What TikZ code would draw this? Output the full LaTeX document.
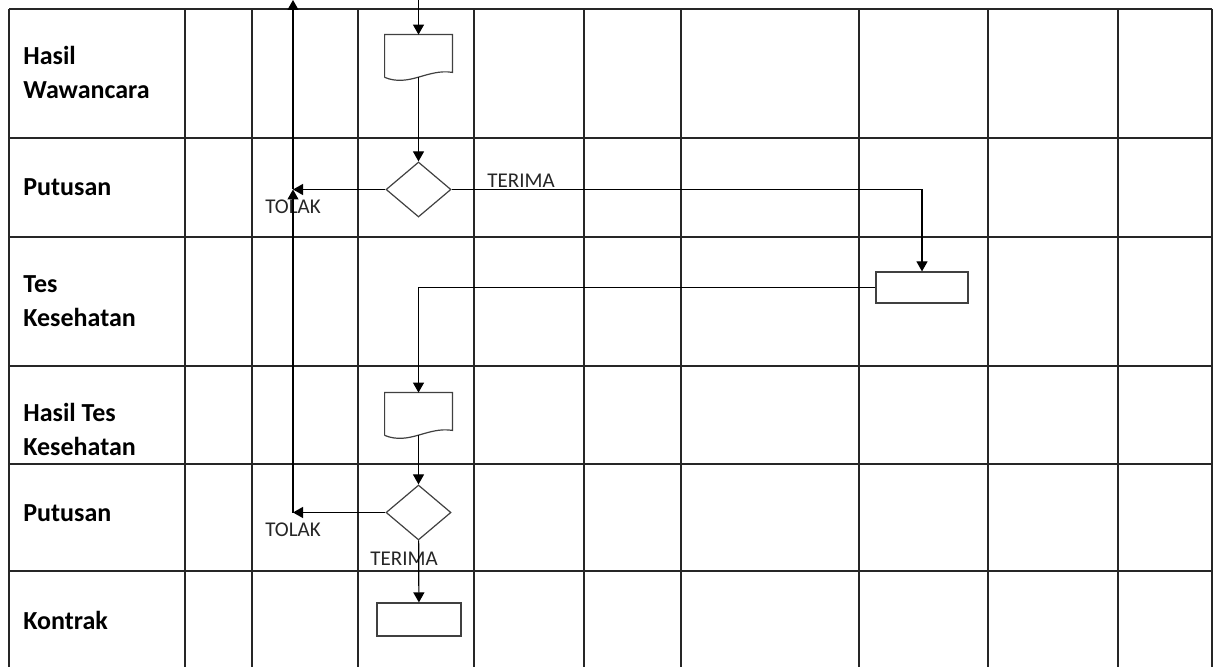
\documentclass[tikz,border=0pt]{standalone}
\usepackage{fontspec}
\setmainfont{Carlito}
\usetikzlibrary{arrows.meta,positioning,shapes.geometric}

% document symbol: box with a wavy bottom, drawn over a named node
\newcommand\docpath[1]{\draw[shape line] (#1.south west) -- (#1.north west) -- (#1.north east) -- ([yshift=2.5pt]#1.south east) .. controls +(-25,-4) and +(25,10) .. (#1.south west);}

\begin{document}
\begin{tikzpicture}[
  x=0.5pt, y=-0.5pt,
  gridline/.style={draw=black!85, line width=0.9pt},
  shape line/.style={draw=black!75, line width=0.6pt},
  lane/.style={anchor=base west, align=left, inner sep=0pt, font=\fontsize{13}{16}\selectfont\bfseries},
  lbl/.style={inner sep=0pt, text=black!85, font=\fontsize{10.5}{12}\selectfont},
  doc/.style={minimum width=33.5pt, minimum height=21pt, inner sep=0pt},
  dec/.style={shape line, diamond, minimum width=32.5pt, minimum height=27.5pt, inner sep=0pt},
  proc/.style={shape line, rectangle, inner sep=0pt},
  arr/.style={-{Triangle[length=5pt,width=5.5pt]}, line width=0.6pt}
]
  \useasboundingbox (0,0) rectangle (1225,667);

  % lanes
  \foreach \y in {9,138,237,366,464,571} \draw[gridline] (9,\y) -- (1212,\y);
  \foreach \x in {9,185,252,358,474,584,681,859,988,1118,1212} \draw[gridline] (\x,9) -- (\x,667);

  % base of a two-line label is its last line
  \node[lane] (hasil)   at (23,99)  {Hasil\\[1pt]Wawancara};
  \node[lane] (putus1)  at (23,196) {Putusan};
  \node[lane] (tes)     at (23,327) {Tes\\[1pt]Kesehatan};
  \node[lane] (hasiltes) at (23,456) {Hasil Tes\\[1pt]Kesehatan};
  \node[lane] (putus2)  at (23,522) {Putusan};
  \node[lane] (kontrak) at (23,629) {Kontrak};

  % flow symbols
  \node[doc] (doc1) at (418.5,56) {};
  \docpath{doc1}
  \node[dec] (dec1) at (418.5,189.5) {};
  \node[proc, minimum width=46pt, minimum height=15.5pt] (box1) at (922,287.5) {};
  \node[doc] (doc2) at (418.5,414) {};
  \docpath{doc2}
  \node[dec] (dec2) at (418.5,512.5) {};
  \node[proc, minimum width=42pt, minimum height=16.5pt] (box2) at (419,619.5) {};

  \coordinate (start) at (418.5,0);
  \coordinate (out) at (293,0);
  \coordinate (t1) at (out |- dec1.west);
  \coordinate (t2) at (out |- dec2.west);

  \node[lbl, below=5pt of t1] (tolak1) {TOLAK};
  \node[lbl, below=5pt of t2] (tolak2) {TOLAK};
  \node[lbl, anchor=base west] (terima1) at (487,188) {TERIMA};
  \node[lbl, anchor=base west] (terima2) at (370,565) {TERIMA};

  % connectors
  \draw[arr] (start) -- (doc1);
  \draw[arr] (doc1) -- (dec1);
  \draw[arr] (dec1.west) -- (t1);
  \draw[arr] (t1) -- (out);
  \draw[arr] (t2) -- (t1);
  \draw[arr] (dec1.east) -| (box1.north);
  \draw[arr] (box1.west) -| (doc2.north);
  \draw[arr] (doc2) -- (dec2);
  \draw[arr] (dec2.west) -- (t2);
  \draw[arr] (dec2) -- (box2);
\end{tikzpicture}
\end{document}
